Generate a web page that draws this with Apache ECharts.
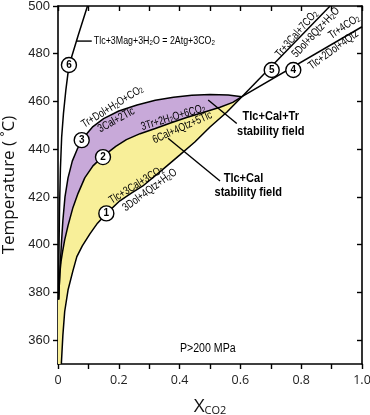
<!DOCTYPE html>
<html><head><meta charset="utf-8">
<script src="https://cdn.jsdelivr.net/npm/echarts@6/dist/echarts.min.js"></script>
<style>html,body{margin:0;padding:0;background:#fff}#c{width:370px;height:415px}</style>
</head><body><div id="c"></div>
<script>
// ---- data ----
const yTicks = [360, 380, 400, 420, 440, 460, 480, 500];
const T_MIN = 350, T_MAX = 500;

// reaction curves [X_CO2, T(°C)]
const curve1 = [[0.011,350],[0.016,362],[0.022,372],[0.033,381],[0.049,389],[0.062,395],[0.08,399.5],[0.105,404.5],[0.13,409],[0.159,413],[0.2,418],[0.24,421.5],[0.279,424.6],[0.34,431],[0.401,437.6],[0.45,443],[0.5,449.3],[0.555,455.5],[0.605,462]];
const curve2 = [[0.002,377],[0.006,388],[0.01,393],[0.015,397],[0.022,402],[0.033,408],[0.049,415.5],[0.066,421.5],[0.088,428],[0.115,433],[0.148,437],[0.19,441.2],[0.225,444],[0.27,446.5],[0.32,448.7],[0.37,451],[0.423,453.3],[0.48,455.5],[0.533,457.6],[0.575,459.6],[0.605,462]];
const curve3 = [[0.002,377],[0.005,385],[0.008,393],[0.011,400],[0.016,410],[0.023,420],[0.033,428],[0.047,435],[0.065,440.5],[0.085,445],[0.115,449.5],[0.15,452.8],[0.2,456],[0.26,458.5],[0.32,460.5],[0.38,461.8],[0.44,462.6],[0.5,462.9],[0.56,462.7],[0.605,462]];
const curve4 = [[0.605,462],[1.0,491.3]];
const curve5 = [[0.605,462],[0.895,500]];
const curve6 = [[0.002,377],[0.003,395],[0.005,415],[0.008,432],[0.012,445],[0.018,455],[0.026,465],[0.036,475],[0.066,487.5],[0.097,500]];

// numbered reaction markers [X_CO2, T, label]
const markers = [[0.159,413.1,'1'],[0.148,436.7,'2'],[0.078,443.8,'3'],[0.774,473.2,'4'],[0.703,473.2,'5'],[0.036,475.3,'6']];

// reaction text labels
const reactionText = ['Tlc+3Mag+3H_2O = 2Atg+3CO_2','Tr+Dol+H_2O+CO_2','3Cal+2Tlc','3Tr+2H_2O+6CO_2','6Cal+4Qtz+5Tlc','Tlc+3Cal+3CO_2','3Dol+4Qtz+H_2O','Tr+3Cal+7CO_2','5Dol+8Qtz+H_2O','Tr+4CO_2','Tlc+2Dol+4Qtz'];
const fieldText = ['Tlc+Cal+Tr','stability field','Tlc+Cal','stability field'];
const pressureText = 'P>200 MPa';

// ---- layout of annotations (positions in data space, rotation in degrees) ----
const reactionPos = [
  {at:[0.118,485.3], rot:0, align:'left'},
  {at:[0.179,457.8], rot:32},
  {at:[0.192,452.2], rot:29},
  {at:[0.379,453.3], rot:17},
  {at:[0.409,449.1], rot:24},
  {at:[0.258,425.0], rot:32},
  {at:[0.302,422.9], rot:36},
  {at:[0.785,488.3], rot:49},
  {at:[0.848,488.9], rot:47},
  {at:[0.941,491.3], rot:34},
  {at:[0.906,481.6], rot:36}
];
const fieldPos = [[0.700,453.9],[0.700,447.6],[0.610,427.9],[0.626,421.8]];
const pressurePos = [0.401,356.5];
const leaders = [
  [[0.0616,485.3],[0.111,485.3]],
  [[0.494,460.6],[0.588,450.8]],
  [[0.362,444.6],[0.533,426.7]]
];

const SANS = "'Liberation Sans',Arial,sans-serif";
const CONDENSE = 0.77;
const PURPLE = '#c8a9d9', YELLOW = '#f8ef99';

const fills = [
  {color: PURPLE, points: curve3.concat(curve2.slice().reverse())},
  {color: YELLOW, points: curve2.concat(curve1.slice().reverse(), [[0, T_MIN],[0, curve2[0][1]]])}
];

function chem(s){
  return s.split(/_(\d)/).map((p,i)=> i%2 ? '{s|'+p+'}' : (p ? '{n|'+p+'}' : '')).join('');
}
function fmtX(v){
  const k = Math.round(v*10);
  if (k % 2) return '';
  return k === 0 ? '0' : (k/10).toFixed(1);
}

const axisLine = {show:true, onZero:false, lineStyle:{color:'#000', width:1.6}};
const tickStyle = {color:'#000', width:1.4};

const chart = echarts.init(document.getElementById('c'));
const lineSeries = [curve1,curve2,curve3,curve4,curve5,curve6].map(c=>({
  type:'line', data:c, showSymbol:false, symbol:'none', z:3, silent:true,
  lineStyle:{color:'#000', width:1.5}
}));

chart.setOption({
  animation:false,
  backgroundColor:'#fff',
  grid:{left:58, right:8, top:6, bottom:51, containLabel:false, outerBoundsMode:'none'},
  xAxis:[
    {type:'value', min:0, max:1, interval:0.1, position:'bottom',
     axisLine:axisLine, axisTick:{show:true, length:5, lineStyle:tickStyle},
     axisLabel:{margin:10, color:'#222', fontFamily:'Open Sans', fontSize:12.5, formatter:fmtX, showMinLabel:true, showMaxLabel:true},
     splitLine:{show:false},
     name:'{x|X}{s|CO2}', nameLocation:'middle', nameGap:33,
     nameTextStyle:{rich:{x:{fontSize:19, fontFamily:'Open Sans', color:'#111'}, s:{fontSize:11, fontFamily:'Open Sans', color:'#111', verticalAlign:'bottom'}}}},
    {type:'value', min:0, max:1, interval:0.1, position:'top',
     axisLine:axisLine, axisTick:{show:true, inside:true, length:5, lineStyle:tickStyle},
     axisLabel:{show:false}, splitLine:{show:false}}
  ],
  yAxis:[
    {type:'value', min:T_MIN, max:T_MAX, position:'left',
     axisLine:axisLine, axisTick:{show:true, length:5, customValues:yTicks, lineStyle:tickStyle},
     axisLabel:{customValues:yTicks, margin:8, color:'#222', fontFamily:'Liberation Sans', fontSize:13},
     splitLine:{show:false},
     name:'Temperature ( \u02DAC)', nameLocation:'middle', nameGap:33,
     nameTextStyle:{fontSize:17, fontFamily:'Open Sans', color:'#111'}},
    {type:'value', min:T_MIN, max:T_MAX, position:'right',
     axisLine:axisLine, axisTick:{show:true, inside:true, length:5, customValues:yTicks, lineStyle:tickStyle},
     axisLabel:{show:false}, splitLine:{show:false}}
  ],
  series:[
    {type:'custom', xAxisIndex:0, yAxisIndex:0, z:1, silent:true,
     data: fills.map((f,i)=>[i/10, T_MIN]),
     renderItem:(params, api)=>{
       const f = fills[params.dataIndex];
       return {type:'polygon', shape:{points:f.points.map(p=>api.coord(p))}, style:{fill:f.color, stroke:'none'}};
     }}
  ].concat(lineSeries, [
    {type:'scatter', data:markers, z:5, symbol:'circle', symbolSize:15, silent:true,
     itemStyle:{color:'#fff', borderColor:'#000', borderWidth:1.4, opacity:1},
     label:{show:true, position:'inside', formatter:p=>p.value[2], color:'#000', fontWeight:'bold', fontSize:10, fontFamily:'Liberation Sans'}}
  ])
});

function px(p){ return chart.convertToPixel({xAxisIndex:0, yAxisIndex:0}, p); }
const graphics = [];
reactionText.forEach((t,i)=>{
  const pos = reactionPos[i], q = px(pos.at);
  graphics.push({type:'text', x:q[0], y:q[1], rotation:pos.rot*Math.PI/180, scaleX:CONDENSE, z:10,
    style:{text:chem(t), align:pos.align||'center', verticalAlign:'middle', fill:'#000',
      rich:{n:{fontSize:11.5, fontFamily:SANS, fill:'#000'}, s:{fontSize:8, fontFamily:SANS, fill:'#000', verticalAlign:'bottom'}}}});
});
fieldText.forEach((t,i)=>{
  const q = px(fieldPos[i]);
  graphics.push({type:'text', x:q[0], y:q[1], scaleX:0.85, z:10,
    style:{text:t, align:'center', verticalAlign:'middle', fill:'#000', fontSize:13, fontWeight:'bold', fontFamily:SANS}});
});
{
  const q = px(pressurePos);
  graphics.push({type:'text', x:q[0], y:q[1], scaleX:0.85, z:10,
    style:{text:pressureText, align:'left', verticalAlign:'middle', fill:'#000', fontSize:12.5, fontFamily:SANS}});
}
leaders.forEach(l=>{
  const a = px(l[0]), b = px(l[1]);
  graphics.push({type:'line', z:10, shape:{x1:a[0], y1:a[1], x2:b[0], y2:b[1]}, style:{stroke:'#000', lineWidth:1.4}});
});
chart.setOption({graphic:graphics});
</script></body></html>
